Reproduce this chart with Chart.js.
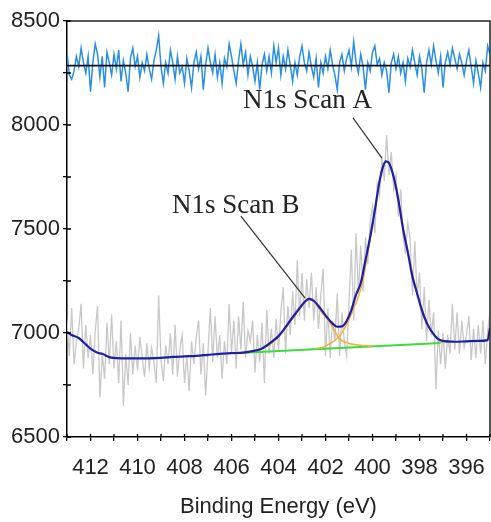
<!DOCTYPE html>
<html>
<head>
<meta charset="utf-8">
<title>N1s XPS scan</title>
<script src="https://cdn.jsdelivr.net/npm/chart.js@4.4.1/dist/chart.umd.min.js"></script>
<style>
  html, body { margin: 0; padding: 0; background: #fff; }
  #wrap { width: 491px; height: 522px; }
</style>
</head>
<body>
<div id="wrap"><canvas id="xps" width="491" height="522"></canvas></div>
<script>
// ------------------------------------------------------------
// Data
// ------------------------------------------------------------

// raw scan sampled every 0.1 eV from 413.0 down to 395.0
const energyStart = 413.0;
const energyStep = 0.1;

const rawCounts = [
  7060, 6890, 7120, 6850, 6960, 7020, 7140, 6830, 7040, 6880,
  6990, 6800, 7010, 7130, 6690, 6900, 6780, 7050, 6850, 7090,
  6830, 6960, 6760, 7060, 6650, 6900, 6750, 7000, 6800, 6940,
  6820, 6980, 6880, 6790, 6950, 6830, 6930, 6860, 6760, 7180,
  6870, 6770, 6940, 6850, 7000, 6800, 7040, 6790, 6920, 6990,
  6760, 6890, 6720, 6960, 6850, 6980, 7060, 6800, 6950, 6700,
  6910, 7120, 6860, 7080, 6880, 6990, 6780, 6960, 6850, 7140,
  6900, 7060, 6830, 7080, 6920, 7150, 6880, 7010, 6960, 7060,
  6810, 6990, 6860, 7050, 6760, 7110, 6900, 7020, 6880, 7070,
  6920, 7100, 7220, 6900, 7130, 6990, 7200, 7040, 7350, 7080,
  7290, 7060, 7260, 7120, 7290, 7060, 7220, 7020, 7180, 7310,
  6890, 7120, 6880, 7060, 6960, 7190, 6890, 7100, 6960, 6890,
  7150, 7400, 7060, 7480, 7190, 7420, 7200, 7460, 7330, 7530,
  7610, 7480, 7720, 7660, 7850, 7730, 7950, 7760, 7870, 7690,
  7760, 7560, 7690, 7470, 7380, 7530, 7450, 7180, 7440, 7170,
  7290, 7020, 7220, 6960, 7160, 6990, 7100, 6730, 7010, 6850,
  7000, 6830, 6990, 6900, 7140, 6920, 7100, 6900, 7060, 6930,
  6990, 7080, 6870, 7020, 6880, 7040, 6900, 7060, 6850, 7010,
  7100
];

const residualCounts = [
  8350, 8240, 8220, 8260, 8330, 8280, 8370, 8300, 8250, 8330,
  8160, 8300, 8390, 8340, 8230, 8330, 8180, 8350, 8300, 8240,
  8340, 8270, 8360, 8210, 8310, 8250, 8160, 8320, 8370, 8280,
  8330, 8230, 8300, 8260, 8340, 8270, 8220, 8310, 8360, 8430,
  8280, 8200, 8300, 8250, 8360, 8300, 8220, 8330, 8250, 8280,
  8200, 8320, 8260, 8180, 8300, 8350, 8270, 8330, 8170, 8290,
  8370, 8300, 8250, 8340, 8230, 8300, 8200, 8320, 8280, 8390,
  8330, 8260, 8200, 8310, 8390, 8290, 8350, 8240, 8330, 8280,
  8210, 8300, 8170, 8290, 8340, 8260, 8330, 8250, 8380, 8300,
  8370, 8240, 8330, 8270, 8360, 8290, 8210, 8300, 8240, 8330,
  8380, 8300, 8260, 8350, 8280, 8230, 8320, 8180, 8300, 8250,
  8330, 8270, 8360, 8290, 8240, 8170, 8300, 8340, 8260, 8320,
  8360, 8280, 8400, 8300, 8250, 8340, 8280, 8170, 8300, 8260,
  8350, 8380, 8290, 8320, 8240, 8300, 8260, 8155, 8300, 8340,
  8270, 8330, 8250, 8300, 8210, 8320, 8280, 8360, 8300, 8240,
  8330, 8270, 8155, 8300, 8360, 8290, 8380, 8310, 8250, 8330,
  8180, 8300, 8350, 8290, 8370, 8320, 8270, 8340, 8300, 8240,
  8310, 8360, 8280, 8200, 8310, 8250, 8180, 8300, 8260, 8380,
  8340
];

// residual zero line
const zeroEnergy = [413, 395];
const zeroCounts = [8285, 8285];

// fitted envelope
const envEnergy = [413.0, 412.8, 412.5, 412.2, 412.0, 411.7, 411.5, 411.2, 411.0, 410.5,
  410.0, 409.5, 409.0, 408.5, 408.0, 407.5, 407.0, 406.5, 406.0, 405.5,
  405.0, 404.7, 404.5, 404.2, 404.0, 403.7, 403.5, 403.2, 403.0, 402.7,
  402.5, 402.2, 402.0, 401.7, 401.5, 401.3, 401.1, 400.9, 400.7, 400.5,
  400.3, 400.1, 399.9, 399.7, 399.55, 399.43, 399.3, 399.1, 398.9, 398.7,
  398.5, 398.3, 398.1, 397.9, 397.7, 397.5, 397.2, 397.0, 396.5, 396.0,
  395.5, 395.1, 395.0];
const envCounts = [7005, 6990, 6976, 6945, 6925, 6905, 6900, 6884, 6880, 6878,
  6878, 6878, 6880, 6885, 6888, 6890, 6895, 6900, 6903, 6906,
  6915, 6926, 6940, 6966, 6985, 7028, 7060, 7105, 7135, 7164,
  7155, 7115, 7085, 7045, 7030, 7032, 7058, 7110, 7185, 7240,
  7350, 7460, 7590, 7730, 7800, 7825, 7818, 7750, 7640, 7500,
  7390, 7270, 7190, 7110, 7050, 7010, 6970, 6962, 6958, 6960,
  6962, 6966, 7025];

// peak components
const compAEnergy = [402.4, 402.1, 401.8, 401.6, 401.45, 401.2, 401.0, 400.8, 400.6, 400.4,
  400.2, 400.0, 399.7, 399.43, 399.2, 399.0, 398.5, 398.0, 397.5, 397.2, 397.0];
const compACounts = [6926, 6932, 6950, 6965, 6978, 7020, 7065, 7120, 7175, 7260,
  7390, 7520, 7730, 7825, 7790, 7700, 7390, 7150, 7010, 6968, 6952];
const compBEnergy = [405.8, 405.0, 404.5, 404.0, 403.5, 403.0, 402.7, 402.4, 402.1, 401.87,
  401.6, 401.45, 401.2, 401.0, 400.6, 400.0];
const compBCounts = [6904, 6914, 6936, 6980, 7055, 7130, 7160, 7140, 7090, 7060,
  7010, 6978, 6958, 6950, 6942, 6937];

// linear background
const baseEnergy = [405.9, 397.1];
const baseCounts = [6903, 6952];

// ------------------------------------------------------------
// Helpers
// ------------------------------------------------------------

function toPoints(xs, ys) {
  return ys.map((y, i) => ({ x: xs[i], y: y }));
}

const energy = rawCounts.map((_, i) => +(energyStart - i * energyStep).toFixed(2));

const annotations = [
  { text: 'N1s Scan A', x: 405.51, y: 8082, from: [400.83, 8034], to: [399.6, 7841] },
  { text: 'N1s Scan B', x: 408.53, y: 7577, from: [405.6, 7562], to: [402.87, 7168] }
];

// frame, inward tick halves and peak labels
const framePlugin = {
  id: 'frame',
  afterDraw(chart) {
    const { ctx, chartArea: a, scales } = chart;
    const xs = scales.x, ys = scales.y;
    ctx.save();

    ctx.strokeStyle = '#222';
    ctx.lineWidth = 1.5;
    ctx.beginPath();
    ctx.moveTo(a.left, a.top);
    ctx.lineTo(a.right, a.top);
    ctx.lineTo(a.right, a.bottom);
    ctx.stroke();

    ctx.strokeStyle = '#000';
    ctx.lineWidth = 1.3;
    ctx.beginPath();
    xs.ticks.forEach(t => {
      const px = xs.getPixelForValue(t.value);
      ctx.moveTo(px, a.bottom);
      ctx.lineTo(px, a.bottom - 3);
    });
    ys.ticks.forEach(t => {
      const py = ys.getPixelForValue(t.value);
      ctx.moveTo(a.left, py);
      ctx.lineTo(a.left + 4, py);
    });
    ctx.stroke();

    annotations.forEach(n => {
      ctx.strokeStyle = '#333';
      ctx.lineWidth = 1.2;
      ctx.beginPath();
      ctx.moveTo(xs.getPixelForValue(n.from[0]), ys.getPixelForValue(n.from[1]));
      ctx.lineTo(xs.getPixelForValue(n.to[0]), ys.getPixelForValue(n.to[1]));
      ctx.stroke();

      ctx.fillStyle = '#222';
      ctx.font = '27px "Liberation Serif", "Times New Roman", serif';
      ctx.textAlign = 'left';
      ctx.textBaseline = 'alphabetic';
      ctx.fillText(n.text, xs.getPixelForValue(n.x), ys.getPixelForValue(n.y));
    });

    ctx.restore();
  }
};

// ------------------------------------------------------------
// Chart
// ------------------------------------------------------------

const axisFont = { family: '"Liberation Sans", Arial, sans-serif', size: 22 };

function lineSet(label, data, color, width, order) {
  return {
    label: label,
    data: data,
    borderColor: color,
    borderWidth: width,
    pointRadius: 0,
    fill: false,
    tension: 0,
    order: order
  };
}

const envSet = lineSet('Envelope', toPoints(envEnergy, envCounts), '#1f1fa6', 2.2, 1);
envSet.cubicInterpolationMode = 'monotone';
const compASet = lineSet('Peak A', toPoints(compAEnergy, compACounts), '#f2b13c', 1.6, 2);
compASet.cubicInterpolationMode = 'monotone';
const compBSet = lineSet('Peak B', toPoints(compBEnergy, compBCounts), '#f2b13c', 1.6, 2);
compBSet.cubicInterpolationMode = 'monotone';

new Chart(document.getElementById('xps'), {
  type: 'line',
  data: {
    datasets: [
      envSet,
      compASet,
      compBSet,
      lineSet('Background', toPoints(baseEnergy, baseCounts), '#3ddc3d', 2, 3),
      lineSet('Zero', toPoints(zeroEnergy, zeroCounts), '#111', 1.8, 3),
      lineSet('Residual', toPoints(energy, residualCounts), '#2b8fe3', 1.5, 4),
      lineSet('Raw', toPoints(energy, rawCounts), '#c8c8c8', 1.3, 5)
    ]
  },
  options: {
    responsive: false,
    devicePixelRatio: 1,
    animation: false,
    layout: { padding: { top: 21, right: 1, left: 0, bottom: 0 } },
    plugins: {
      legend: { display: false },
      tooltip: { enabled: false }
    },
    scales: {
      x: {
        type: 'linear',
        reverse: true,
        min: 395,
        max: 413,
        border: { color: '#000', width: 1.5 },
        grid: { drawOnChartArea: false, tickLength: 4, color: '#000', lineWidth: 1.3 },
        ticks: {
          stepSize: 1,
          autoSkip: false,
          maxRotation: 0,
          padding: 14,
          color: '#222',
          font: axisFont,
          callback: v => (v % 2 === 0 ? String(v) : '')
        },
        title: {
          display: true,
          text: 'Binding Energy (eV)',
          color: '#222',
          font: axisFont,
          padding: { top: 0, bottom: 2 }
        },
        afterFit: s => {
          s.height = 85;
          s.paddingLeft = 0;
          s.paddingRight = 0;
        }
      },
      y: {
        min: 6500,
        max: 8500,
        border: { color: '#000', width: 1.5 },
        grid: { drawOnChartArea: false, tickLength: 4, color: '#000', lineWidth: 1.3 },
        ticks: {
          stepSize: 250,
          autoSkip: false,
          padding: 3,
          color: '#222',
          font: axisFont,
          callback: v => (v % 500 === 0 ? String(v) : '')
        },
        afterFit: s => { s.width = 67; }
      }
    }
  },
  plugins: [framePlugin]
});
</script>
</body>
</html>
